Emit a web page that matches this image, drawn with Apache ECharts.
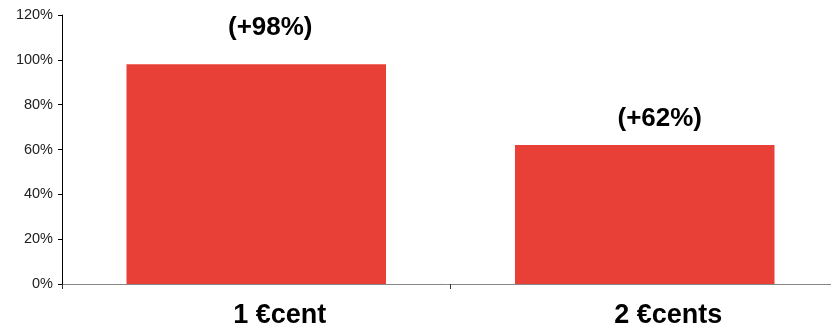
<!DOCTYPE html>
<html>
<head>
<meta charset="utf-8">
<script src="https://cdn.jsdelivr.net/npm/echarts@6/dist/echarts.min.js"></script>
<style>
  html, body { margin: 0; padding: 0; background: #ffffff; }
  #chart { width: 831px; height: 328px; }
</style>
</head>
<body>
<div id="chart"></div>
<script>
// Coin denominations and their percentage increase
const categories = ['1 €cent', '2 €cents'];
const values = [98, 62];
const valueLabels = ['(+98%)', '(+62%)'];
const yTicks = [0, 20, 40, 60, 80, 100, 120];

const labelOffsets = [[14, -18], [15, -8]];

const chart = echarts.init(document.getElementById('chart'), null, { renderer: 'canvas' });

chart.setOption({
  animation: false,
  backgroundColor: '#ffffff',
  grid: { left: 62, top: 15, width: 777, height: 269, outerBoundsMode: 'none', containLabel: false },
  xAxis: {
    type: 'category',
    data: categories,
    axisLine: { lineStyle: { color: '#888888', width: 1 } },
    axisTick: { show: true, length: 5, lineStyle: { color: '#333333' } },
    axisLabel: {
      color: '#000000',
      fontFamily: 'Liberation Sans, Arial, sans-serif',
      fontWeight: 'bold',
      fontSize: 27,
      margin: 18,
      padding: [0, 0, 0, 47]
    }
  },
  yAxis: {
    type: 'value',
    min: yTicks[0],
    max: yTicks[yTicks.length - 1],
    interval: 20,
    splitLine: { show: false },
    axisLine: { show: true, lineStyle: { color: '#000000', width: 1 } },
    axisTick: { show: true, inside: false, length: 4, lineStyle: { color: '#000000' } },
    axisLabel: {
      color: '#222222',
      fontFamily: 'Liberation Sans, Arial, sans-serif',
      fontSize: 14.5,
      margin: 9,
      formatter: v => v + '%'
    }
  },
  series: [{
    type: 'bar',
    barWidth: '66.8%',
    itemStyle: { color: '#e84037' },
    data: values.map((v, i) => ({
      value: v,
      label: {
        show: true,
        position: 'top',
        offset: labelOffsets[i],
        formatter: valueLabels[i],
        color: '#000000',
        fontFamily: 'Liberation Sans, Arial, sans-serif',
        fontWeight: 'bold',
        fontSize: 26
      }
    }))
  }]
});
</script>
</body>
</html>
